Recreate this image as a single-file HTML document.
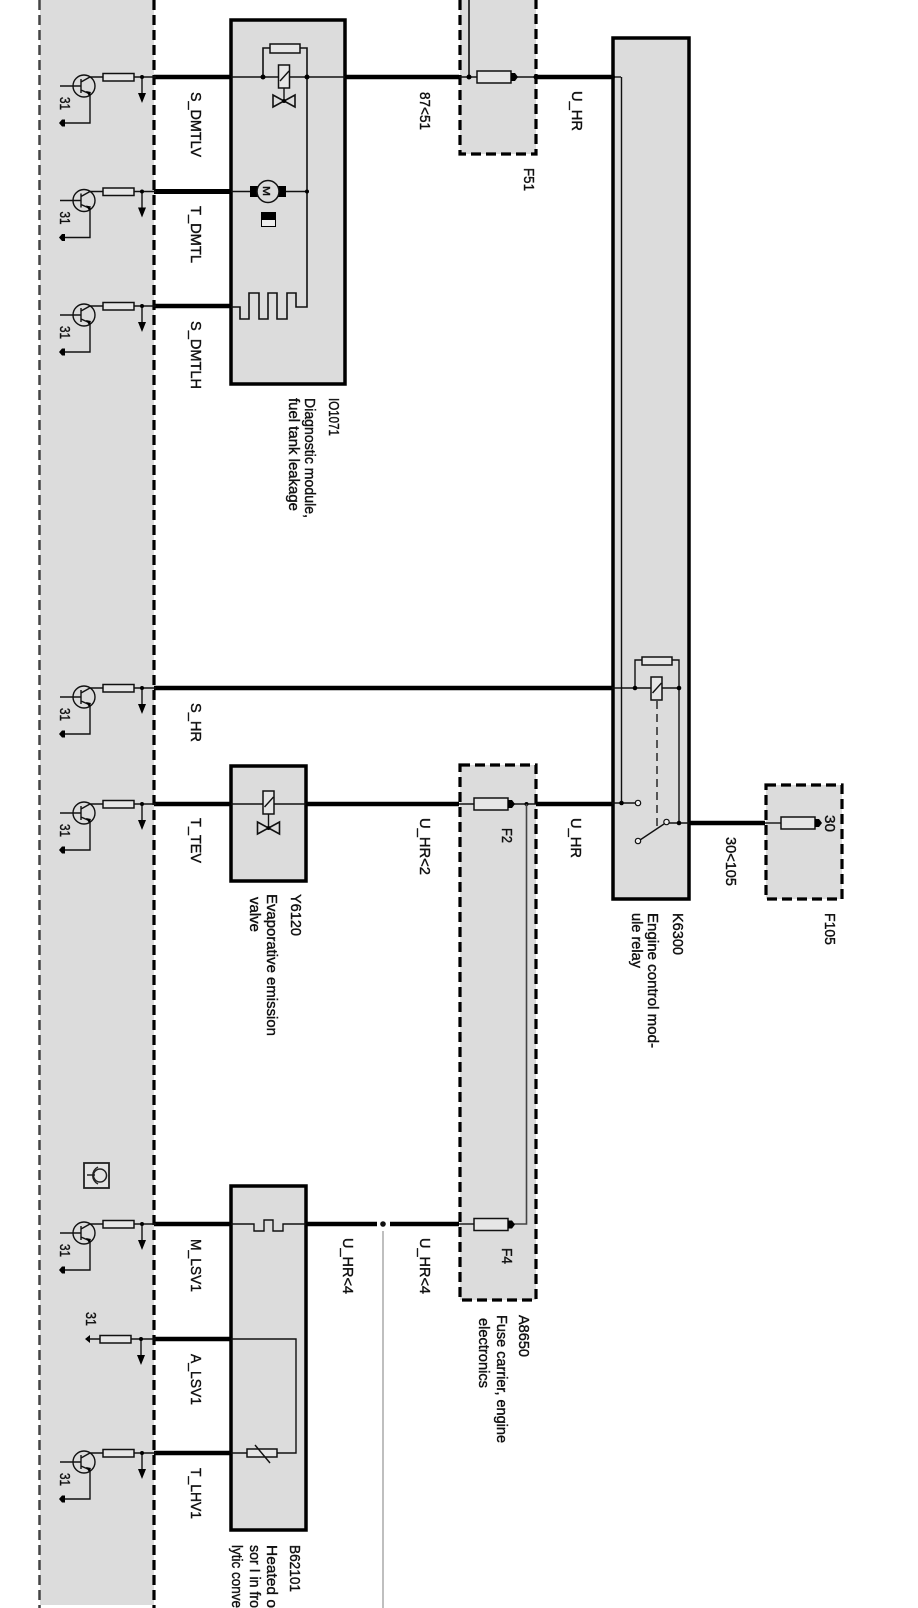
<!DOCTYPE html>
<html><head><meta charset="utf-8"><style>
html,body{margin:0;padding:0;background:#fff;width:918px;height:1608px;overflow:hidden}
svg{display:block;overflow:hidden;filter:blur(.35px)}
text{font-family:"Liberation Sans",sans-serif;font-size:14.500px;fill:#111;stroke:#111;stroke-width:.4}
.n{font-size:15px}
.f{fill:#dcdcdc;stroke:#000;stroke-width:3.500}
.d{fill:#dcdcdc;stroke:#000;stroke-width:3.200;stroke-dasharray:10 5}
.t{stroke:#111;stroke-width:1.400;fill:none}
.k{stroke:#000;stroke-width:4.500;fill:none}
.w{fill:#e6e6e6;stroke:#111;stroke-width:1.500}
</style></head><body>
<svg width="918" height="1608" viewBox="0 0 918 1608" xmlns="http://www.w3.org/2000/svg">
<defs>
<g id="tr">
<circle class="t" cx="84" cy="9" r="11"/>
<path class="t" d="M60 9H81M81 2V16M81 5L90 0H103M81 13L90 17V46H62"/>
<polygon points="59,46 62,42.500 65,42.500 65,49.500 62,49.500" fill="#000"/>
<polygon points="86,14 91,15 89,19" fill="#000"/>
<text class="n" transform="translate(60,20) rotate(90)" textLength="13" lengthAdjust="spacingAndGlyphs">31</text>
</g>
<g id="ar">
<rect class="w" x="103" y="-3.500" width="31" height="7.500"/>
<path class="t" d="M134 0H156M142 0V17"/>
<circle cx="142" cy="0" r="2" fill="#000"/>
<polygon points="138,16 146,16 142,26" fill="#000"/>
</g>
<g id="coil">
<rect class="w" x="-5.500" y="-12" width="11" height="23"/>
<path class="t" d="M-4 4L5 -6"/>
</g>
<g id="valve">
<path d="M-11 -6V6L0 0ZM11 -6V6L0 0Z" fill="none" stroke="#111" stroke-width="1.600"/>
<circle r="2" fill="#000"/>
</g>
<g id="fuse">
<rect class="w" x="0" y="-6" width="34" height="12"/>
<polygon points="34,-4 38,-4 41,0 38,4 34,4" fill="#000"/>
</g>
</defs>

<!-- left panel -->
<rect x="40" y="0" width="114" height="1605" fill="#dcdcdc"/>
<line x1="39.500" y1="0" x2="39.500" y2="1608" stroke="#444" stroke-width="2.500" stroke-dasharray="10 5"/>
<line x1="154" y1="0" x2="154" y2="1608" stroke="#000" stroke-width="3.200" stroke-dasharray="10 5"/>

<!-- boxes -->
<rect class="f" x="231" y="20" width="114" height="364"/>
<rect class="f" x="231" y="766" width="75" height="115"/>
<rect class="f" x="231" y="1186" width="75" height="344"/>
<rect class="f" x="613" y="38" width="76" height="861"/>
<path class="d" d="M460 0V154H536V0"/>
<rect class="d" x="460" y="765" width="76" height="535"/>
<rect class="d" x="766" y="785" width="76" height="114"/>

<!-- thick wires -->
<path class="k" d="M154 77H231M345 77H459M536 77H612"/>
<path class="k" style="stroke-width:5" d="M154 191.500H231"/>
<path class="k" d="M154 306H231"/>
<path class="k" d="M154 688H612"/>
<path class="k" d="M154 804H231M306 804H459M536 804H612"/>
<path class="k" d="M154 1224H231M306 1224H377M390 1224H459"/>
<path class="k" d="M154 1339H231"/>
<path class="k" d="M154 1453H231"/>
<path class="k" d="M689 823H765"/>

<!-- transistors -->
<use href="#tr" y="77"/><use href="#ar" y="77"/>
<use href="#tr" y="191.500"/><use href="#ar" y="191.500"/>
<use href="#tr" y="306"/><use href="#ar" y="306"/>
<use href="#tr" y="688"/><use href="#ar" y="688"/>
<use href="#tr" y="804"/><use href="#ar" y="804"/>
<use href="#tr" y="1224"/><use href="#ar" y="1224"/>
<use href="#tr" y="1453"/><use href="#ar" y="1453"/>

<!-- A_LSV1 -->
<g transform="translate(0,1339)">
<polygon points="85,0 90,-4 90,4" fill="#000"/>
<path class="t" d="M88 0H100M131 0H156M141 0V16"/>
<rect class="w" x="100" y="-3.500" width="31" height="7.500"/>
<circle cx="141" cy="0" r="2" fill="#000"/>
<polygon points="137,16 145,16 141,26" fill="#000"/>
</g>
<text class="n" transform="translate(86,1312) rotate(90)" textLength="14" lengthAdjust="spacingAndGlyphs">31</text>

<!-- symbol -->
<rect x="84" y="1163" width="25" height="25" fill="#e4e4e4" stroke="#222" stroke-width="1.800"/>
<path fill="none" stroke="#222" stroke-width="1.500" d="M98 1167A9.500 9.500 0 0 0 98 1184M87 1175H95"/>
<circle cx="100" cy="1175.500" r="6.500" fill="none" stroke="#222" stroke-width="1.500"/>

<!-- IO1071 internals -->
<path class="t" d="M231 77H345"/>
<path class="t" style="stroke-width:1.600" d="M263 77V48H270M300 48H307V307H296V293H287V319H277V293H268V319H259V293H249V319H240V307H231"/>
<rect class="w" x="270" y="44" width="30" height="9"/>
<use href="#coil" x="284" y="77"/>
<path class="t" d="M284 88V100"/>
<use href="#valve" x="284" y="101"/>
<circle cx="263" cy="77" r="2.500" fill="#000"/><circle cx="307" cy="77" r="2.500" fill="#000"/>
<path class="t" d="M231 191.500H307"/>
<circle cx="307" cy="191.500" r="2" fill="#000"/>
<rect x="250" y="186" width="8" height="11" fill="#000"/><rect x="278" y="186" width="8" height="11" fill="#000"/>
<circle cx="268" cy="191.500" r="11" fill="#dcdcdc" stroke="#111" stroke-width="1.500"/>
<text transform="translate(263,186) rotate(90)" style="font-size:10px" textLength="10" lengthAdjust="spacingAndGlyphs">M</text>
<rect x="261.500" y="212.500" width="14" height="14" fill="#eee" stroke="#000"/>
<rect x="261" y="212" width="15" height="8" fill="#000"/>

<!-- Y6120 internals -->
<path class="t" d="M231 804H306"/>
<use href="#coil" x="268.500" y="803"/>
<path class="t" d="M268.500 814V826"/>
<use href="#valve" x="268.500" y="828"/>

<!-- B62101 internals -->
<path class="t" d="M231 1224H254V1231H264V1220H273V1231H283V1224H306"/>
<path class="t" d="M231 1339H296V1453H277M247 1453H231"/>
<rect class="w" x="247" y="1449" width="30" height="8"/>
<path class="t" d="M255 1445L270 1463"/>

<!-- F51 -->
<path class="t" style="stroke-width:1.600" d="M469 0V77"/>
<path class="t" d="M459 77H477M511 77H536"/>
<use href="#fuse" x="477" y="77"/>
<circle cx="469" cy="77" r="2.500" fill="#000"/>
<circle cx="536" cy="77" r="2.500" fill="#000"/>
<path class="t" d="M612 77H621"/>
<circle cx="613" cy="77" r="2" fill="#000"/>

<!-- F2/F4 -->
<path class="t" d="M459 804H474M510 804H536"/>
<use href="#fuse" x="474" y="804"/>
<circle cx="526.500" cy="804" r="2" fill="#000"/>
<path stroke="#444" stroke-width="1.600" fill="none" d="M526.500 804V1224H510"/>
<path class="t" d="M459 1224H474"/>
<use href="#fuse" x="474" y="1224.500"/>

<!-- split -->
<circle cx="383" cy="1224" r="2.800" fill="#111"/>
<line x1="383" y1="1231" x2="383" y2="1608" stroke="#aaa" stroke-width="1.500"/>

<!-- K6300 internals -->
<path class="t" d="M621.500 77V803"/>
<path class="t" d="M612 688H679"/>
<path class="t" d="M635 688V660H642M672 660H679V823"/>
<rect class="w" x="642" y="657" width="30" height="8"/>
<use href="#coil" x="656.500" y="689"/>
<circle cx="635" cy="688" r="2.300" fill="#000"/><circle cx="679" cy="688" r="2.300" fill="#000"/>
<line x1="657" y1="701" x2="657" y2="828" stroke="#555" stroke-width="2" stroke-dasharray="8 5"/>
<path class="t" d="M612 803H635"/>
<circle cx="621.500" cy="803" r="2.300" fill="#000"/>
<circle cx="638" cy="803" r="2.700" fill="#eee" stroke="#111" stroke-width="1.200"/>
<path class="t" d="M640 840L664 824"/>
<circle cx="638" cy="841" r="2.700" fill="#eee" stroke="#111" stroke-width="1.200"/>
<circle cx="666.500" cy="822" r="2.700" fill="#eee" stroke="#111" stroke-width="1.200"/>
<path class="t" d="M669 823H689"/>
<circle cx="679" cy="823" r="2.300" fill="#000"/>

<!-- F105 -->
<path class="t" d="M765 823H781"/>
<use href="#fuse" x="781" y="823"/>

<!-- labels -->
<g>
<text transform="translate(191,92) rotate(90)" textLength="65" lengthAdjust="spacingAndGlyphs">S_DMTLV</text>
<text transform="translate(191,206) rotate(90)" textLength="57" lengthAdjust="spacingAndGlyphs">T_DMTL</text>
<text transform="translate(191,321) rotate(90)" textLength="68" lengthAdjust="spacingAndGlyphs">S_DMTLH</text>
<text transform="translate(191,703) rotate(90)" textLength="39" lengthAdjust="spacingAndGlyphs">S_HR</text>
<text transform="translate(191,818) rotate(90)" textLength="45" lengthAdjust="spacingAndGlyphs">T_TEV</text>
<text transform="translate(191,1239) rotate(90)" textLength="53" lengthAdjust="spacingAndGlyphs">M_LSV1</text>
<text transform="translate(191,1354) rotate(90)" textLength="51" lengthAdjust="spacingAndGlyphs">A_LSV1</text>
<text transform="translate(191,1468) rotate(90)" textLength="51" lengthAdjust="spacingAndGlyphs">T_LHV1</text>

<text transform="translate(329,398) rotate(90)" textLength="38" lengthAdjust="spacingAndGlyphs">IO1071</text>
<text transform="translate(305,398) rotate(90)" textLength="120" lengthAdjust="spacingAndGlyphs">Diagnostic module,</text>
<text transform="translate(289,398) rotate(90)" textLength="113" lengthAdjust="spacingAndGlyphs">fuel tank leakage</text>

<text transform="translate(420,92) rotate(90)" textLength="38" lengthAdjust="spacingAndGlyphs">87&lt;51</text>
<text transform="translate(572,91) rotate(90)" textLength="40" lengthAdjust="spacingAndGlyphs">U_HR</text>
<text transform="translate(524,168) rotate(90)" textLength="23" lengthAdjust="spacingAndGlyphs">F51</text>

<text transform="translate(291,894) rotate(90)" textLength="42" lengthAdjust="spacingAndGlyphs">Y6120</text>
<text transform="translate(267,894) rotate(90)" textLength="142" lengthAdjust="spacingAndGlyphs">Evaporative emission</text>
<text transform="translate(250,897) rotate(90)" textLength="35" lengthAdjust="spacingAndGlyphs">valve</text>

<text transform="translate(420,818) rotate(90)" textLength="57" lengthAdjust="spacingAndGlyphs">U_HR&lt;2</text>
<text transform="translate(571,818) rotate(90)" textLength="40" lengthAdjust="spacingAndGlyphs">U_HR</text>
<text transform="translate(502,828) rotate(90)" textLength="15" lengthAdjust="spacingAndGlyphs">F2</text>
<text transform="translate(502,1248) rotate(90)" textLength="16" lengthAdjust="spacingAndGlyphs">F4</text>
<text transform="translate(726,837) rotate(90)" textLength="49" lengthAdjust="spacingAndGlyphs">30&lt;105</text>
<text transform="translate(825,815) rotate(90)" textLength="17" lengthAdjust="spacingAndGlyphs">30</text>
<text transform="translate(825,913) rotate(90)" textLength="32" lengthAdjust="spacingAndGlyphs">F105</text>

<text transform="translate(673,913) rotate(90)" textLength="42" lengthAdjust="spacingAndGlyphs">K6300</text>
<text transform="translate(648,913) rotate(90)" textLength="135" lengthAdjust="spacingAndGlyphs">Engine control mod-</text>
<text transform="translate(632,913) rotate(90)" textLength="55" lengthAdjust="spacingAndGlyphs">ule relay</text>

<text transform="translate(343,1238) rotate(90)" textLength="56" lengthAdjust="spacingAndGlyphs">U_HR&lt;4</text>
<text transform="translate(420,1238) rotate(90)" textLength="56" lengthAdjust="spacingAndGlyphs">U_HR&lt;4</text>

<text transform="translate(519,1315) rotate(90)" textLength="42" lengthAdjust="spacingAndGlyphs">A8650</text>
<text transform="translate(497,1315) rotate(90)" textLength="128" lengthAdjust="spacingAndGlyphs">Fuse carrier, engine</text>
<text transform="translate(479,1318) rotate(90)" textLength="70" lengthAdjust="spacingAndGlyphs">electronics</text>

<text transform="translate(290,1545) rotate(90)" textLength="47" lengthAdjust="spacingAndGlyphs">B62101</text>
<text transform="translate(267,1545) rotate(90)" textLength="63" lengthAdjust="spacingAndGlyphs">Heated o</text>
<text transform="translate(250,1545) rotate(90)" textLength="63" lengthAdjust="spacingAndGlyphs">sor I in fro</text>
<text transform="translate(232,1545) rotate(90)" textLength="63" lengthAdjust="spacingAndGlyphs">lytic conve</text>
</g>
</svg>
</body></html>
